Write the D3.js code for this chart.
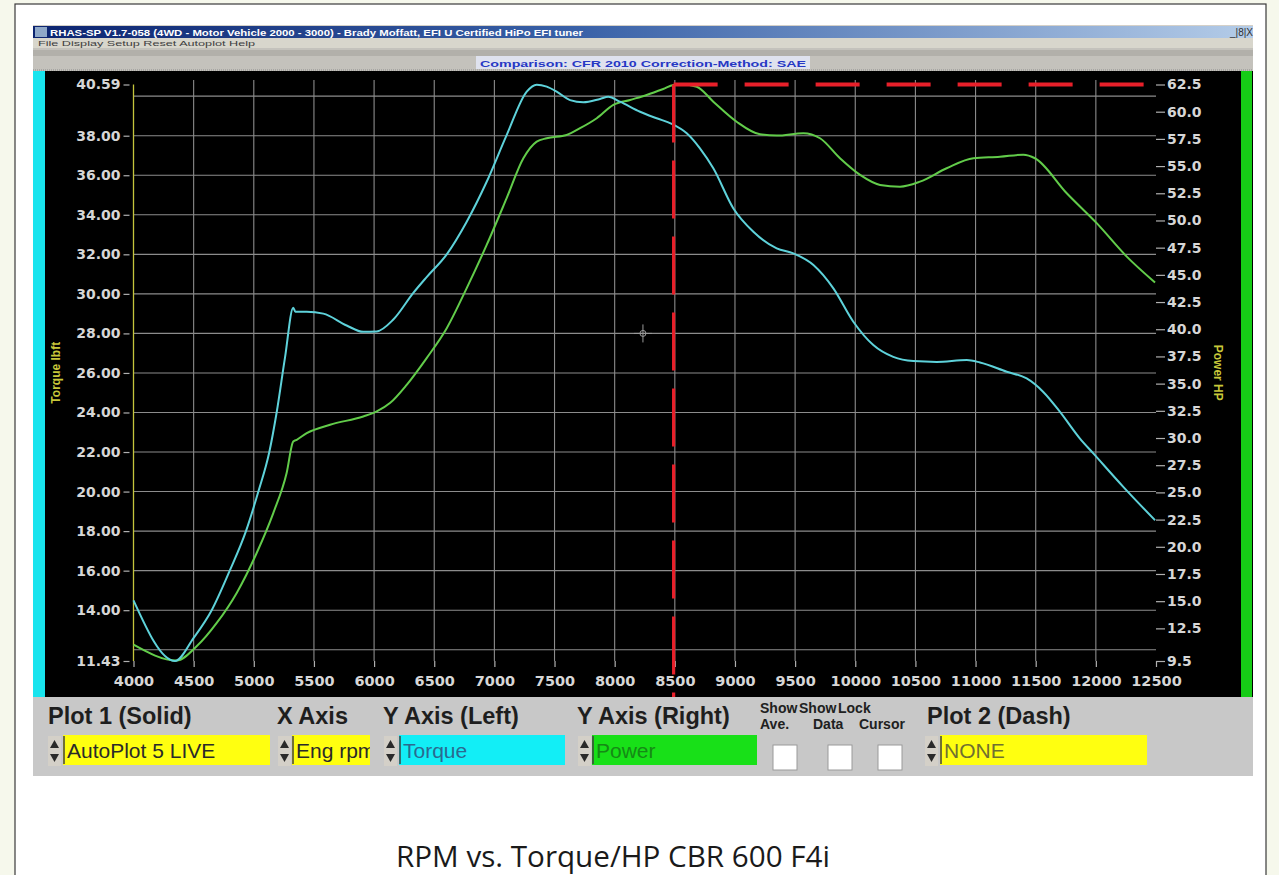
<!DOCTYPE html>
<html><head><meta charset="utf-8">
<script src="https://cdn.jsdelivr.net/npm/d3@7"></script>
<style>body{margin:0;background:#f6f8ec;overflow:hidden}svg{display:block}</style>
</head><body>
<svg id="c" width="1279" height="875"></svg>
<script>
// ---------- data ----------
const xTicks = [4000,4500,5000,5500,6000,6500,7000,7500,8000,8500,9000,9500,10000,10500,11000,11500,12000,12500];
const leftTicks = [40.59,38,36,34,32,30,28,26,24,22,20,18,16,14,11.43];
const leftGrid = [12,14,16,18,20,22,24,26,28,30,32,34,36,38,40];
const rightTicks = [62.5,60,57.5,55,52.5,50,47.5,45,42.5,40,37.5,35,32.5,30,27.5,25,22.5,20,17.5,15,12.5,9.5];

const torqueRpm = [4000,4345,4500,4650,4800,4935,5038,5129,5190,5260,5328,5345,5440,5578,5772,5910,6022,6160,6326,6437,6604,6770,6936,7102,7269,7352,7435,7518,7629,7739,7878,7947,8044,8211,8349,8474,8599,8654,8709,8820,8987,9153,9347,9485,9652,9818,9984,10150,10316,10483,10677,10927,11037,11259,11425,11563,11702,11868,11979,12228,12492];
const torqueLbft = [14.5,11.43,12.6,14.0,16.0,18.0,20.0,22.0,24.0,26.8,29.3,29.1,29.1,29.0,28.4,28.08,28.1,28.7,30.05,30.85,32.0,33.65,35.67,38.03,40.23,40.58,40.48,40.23,39.8,39.69,39.86,39.97,39.72,39.21,38.88,38.6,38.12,37.78,37.36,36.35,34.32,33.14,32.3,32.05,31.46,30.28,28.59,27.41,26.81,26.6,26.56,26.65,26.53,26.06,25.72,25.04,24.03,22.68,21.93,20.24,18.55];

const powerRpm = [4000,4359,4525,4692,4858,5024,5162,5273,5328,5357,5440,5634,5910,6022,6132,6271,6437,6604,6770,6936,7102,7241,7352,7435,7601,7712,7851,7989,8128,8266,8404,8488,8560,8682,8820,9014,9208,9347,9568,9707,9873,10040,10206,10372,10538,10760,10982,11203,11397,11494,11758,12007,12257,12492];
const powerHp = [11.0,9.54,10.85,13.0,15.76,19.43,23.1,26.78,29.68,29.84,30.45,31.22,31.98,32.44,33.21,34.89,37.35,40.1,43.78,47.75,52.05,55.72,57.25,57.56,57.86,58.48,59.4,60.62,61.08,61.54,62.09,62.45,62.5,62.3,60.92,59.08,57.92,57.8,58.02,57.56,55.72,54.19,53.27,53.11,53.57,54.8,55.72,55.85,56.05,55.72,52.5,49.75,46.68,44.3];

const peakRpm = 8490, peakHp = 62.5;
const cursorRpm = 8235, cursorLbft = 28.0;

// ---------- setup ----------
const svg = d3.select("#c");
const AX = "DejaVu Sans, Verdana, sans-serif";
const AR = "Liberation Sans, Arial, sans-serif";

// page frame
svg.append("rect").attr("x",15).attr("y",4).attr("width",1251).attr("height",880)
  .attr("fill","#ffffff").attr("stroke","#3a3a3a").attr("stroke-width",1.2);

// window
svg.append("rect").attr("x",33).attr("y",25).attr("width",1220).attr("height",751).attr("fill","#d4d0c8");
const defs = svg.append("defs");
const g1 = defs.append("linearGradient").attr("id","tb");
g1.append("stop").attr("offset","0").attr("stop-color","#0c2470");
g1.append("stop").attr("offset","0.45").attr("stop-color","#3a62a8");
g1.append("stop").attr("offset","1").attr("stop-color","#b4cce8");
svg.append("rect").attr("x",33).attr("y",26).attr("width",1220).attr("height",12).attr("fill","url(#tb)");
svg.append("rect").attr("x",35).attr("y",27).attr("width",12).attr("height",10).attr("fill","#8fa8c8");
svg.append("text").attr("x",50).attr("y",35.5).attr("font-family",AR).attr("font-weight","bold")
  .attr("font-size",9).attr("fill","#ffffff").attr("textLength",533).attr("lengthAdjust","spacingAndGlyphs")
  .text("RHAS-SP V1.7-058  (4WD - Motor Vehicle 2000 - 3000) - Brady Moffatt, EFI U Certified HiPo EFI tuner");
svg.append("text").attr("x",1230).attr("y",35.5).attr("font-family",AR).attr("font-size",10)
  .attr("fill","#303030").text("_|8|X");
// menu
svg.append("rect").attr("x",33).attr("y",38).attr("width",1220).attr("height",10).attr("fill","#d8d6cc");
svg.append("text").attr("x",38).attr("y",46).attr("font-family",AR).attr("font-size",7.5)
  .attr("fill","#404040").attr("textLength",217).attr("lengthAdjust","spacingAndGlyphs")
  .text("File   Display   Setup   Reset   Autoplot   Help");
// toolbar
svg.append("rect").attr("x",33).attr("y",48).attr("width",1220).attr("height",23).attr("fill","#c4c2bc");
svg.append("rect").attr("x",33).attr("y",50).attr("width",1220).attr("height",6).attr("fill","#b2b0aa");
svg.append("line").attr("x1",33).attr("x2",1253).attr("y1",70).attr("y2",70).attr("stroke","#8a8a8a").attr("stroke-dasharray","1,1");
svg.append("rect").attr("x",476).attr("y",56).attr("width",334).attr("height",13).attr("fill","#dfe2ee");
svg.append("text").attr("x",480).attr("y",66.5).attr("font-family",AR).attr("font-weight","bold")
  .attr("font-size",9.5).attr("fill","#2638c4").attr("textLength",326).attr("lengthAdjust","spacingAndGlyphs")
  .text("Comparison: CFR 2010     Correction-Method: SAE");

// plot area
svg.append("rect").attr("x",33).attr("y",71).attr("width",1220).attr("height",626).attr("fill","#000000");
svg.append("rect").attr("x",33).attr("y",71).attr("width",12).attr("height",626).attr("fill","#18e4ee");
svg.append("rect").attr("x",1241).attr("y",71).attr("width",11).attr("height",626).attr("fill","#16cc16");

// scales
const x = d3.scaleLinear().domain([4000,12500]).range([133.5,1156]);
const yL = d3.scaleLinear().domain([11.43,40.59]).range([661,84.5]);
const yR = d3.scaleLinear().domain([9.5,62.5]).range([661,84.5]);

// grid
const grid = svg.append("g").attr("stroke","#8c8c8c").attr("stroke-width",1.1);
grid.selectAll("line.h").data(leftGrid).join("line")
  .attr("x1",x(4000)).attr("x2",x(12500)).attr("y1",d=>yL(d)).attr("y2",d=>yL(d));
grid.selectAll("line.v").data(xTicks.slice(1,-1)).join("line")
  .attr("x1",d=>x(d)).attr("x2",d=>x(d)).attr("y1",80).attr("y2",661);

// axes
function styleAxis(g, size){
  g.select(".domain").remove();
  g.selectAll(".tick line").attr("stroke","#b0b0b0").attr("stroke-width",1.2);
  g.selectAll(".tick text").attr("fill","#d6d6d6").attr("font-family",AX)
    .attr("font-weight","bold").attr("font-size",size);
}
const gL = svg.append("g").attr("transform","translate(129.5,0)")
  .call(d3.axisLeft(yL).tickValues(leftTicks).tickFormat(d3.format(".2f")).tickSize(6).tickPadding(3));
styleAxis(gL,14);
const gR = svg.append("g").attr("transform","translate(1156,0)")
  .call(d3.axisRight(yR).tickValues(rightTicks).tickFormat(d3.format(".1f")).tickSize(9).tickPadding(2));
styleAxis(gR,14);
const gX = svg.append("g").attr("transform","translate(0,661)")
  .call(d3.axisBottom(x).tickValues(xTicks).tickFormat(d3.format("d")).tickSize(6).tickPadding(9));
styleAxis(gX,14.5);

// left axis line (yellow)
svg.append("line").attr("x1",x(4000)).attr("x2",x(4000)).attr("y1",yL(40.59)).attr("y2",yL(11.43))
  .attr("stroke","#c4c43c").attr("stroke-width",1.3);

// axis titles
svg.append("text").attr("transform",`translate(60,${(yL(40.59)+yL(11.43))/2}) rotate(-90)`)
  .attr("text-anchor","middle").attr("font-family",AR).attr("font-weight","bold").attr("font-size",12)
  .attr("fill","#c8c83a").text("Torque lbft");
svg.append("text").attr("transform",`translate(1214,${(yR(62.5)+yR(9.5))/2}) rotate(90)`)
  .attr("text-anchor","middle").attr("font-family",AR).attr("font-weight","bold").attr("font-size",12)
  .attr("fill","#c8c83a").text("Power HP");

// curves
const torque = torqueRpm.map((r,i)=>[r,torqueLbft[i]]);
const power = powerRpm.map((r,i)=>[r,powerHp[i]]);
svg.append("path").datum(power).attr("fill","none").attr("stroke","#62cc4a").attr("stroke-width",2)
  .attr("d",d3.line().x(d=>x(d[0])).y(d=>yR(d[1])).curve(d3.curveMonotoneX));
svg.append("path").datum(torque).attr("fill","none").attr("stroke","#5ed2da").attr("stroke-width",2)
  .attr("d",d3.line().x(d=>x(d[0])).y(d=>yL(d[1])).curve(d3.curveMonotoneX));

// peak markers (red dashed)
svg.append("line").attr("x1",x(peakRpm)).attr("x2",x(peakRpm)).attr("y1",yR(peakHp)).attr("y2",697)
  .attr("stroke","#e8202a").attr("stroke-width",3.2).attr("stroke-dasharray","58,18");
svg.append("line").attr("x1",x(peakRpm)).attr("x2",x(12500)).attr("y1",yR(peakHp)).attr("y2",yR(peakHp))
  .attr("stroke","#e8202a").attr("stroke-width",4).attr("stroke-dasharray","44,27");

// cursor crosshair
const cx = x(cursorRpm), cy = yL(cursorLbft);
const cur = svg.append("g").attr("stroke","#9a9a9a").attr("stroke-width",1).attr("fill","none");
cur.append("line").attr("x1",cx-9).attr("x2",cx+9).attr("y1",cy).attr("y2",cy);
cur.append("line").attr("x1",cx).attr("x2",cx).attr("y1",cy-9).attr("y2",cy+9);
cur.append("circle").attr("cx",cx).attr("cy",cy).attr("r",3);

// ---------- control panel ----------
svg.append("rect").attr("x",33).attr("y",697).attr("width",1220).attr("height",79).attr("fill","#c8c8c8");
const lab = svg.append("g").attr("font-family",AR).attr("font-weight","bold").attr("fill","#1e1e1e");
[["Plot 1 (Solid)",48],["X Axis",277],["Y Axis (Left)",383],["Y Axis (Right)",577],["Plot 2 (Dash)",927]]
  .forEach(([t,px])=>lab.append("text").attr("x",px).attr("y",724).attr("font-size",23.5).text(t));
const sm = svg.append("g").attr("font-family",AR).attr("font-weight","bold").attr("fill","#202020").attr("font-size",14);
[["Show",760,713],["Ave.",760,729],["Show",799,713],["Data",813,729],["Lock",838,713],["Cursor",859,729]]
  .forEach(([t,px,py])=>sm.append("text").attr("x",px).attr("y",py).text(t));

function spinner(px){
  const g = svg.append("g");
  g.append("rect").attr("x",px).attr("y",736).attr("width",13).attr("height",30).attr("fill","#d4d0c8");
  g.append("path").attr("d",`M${px+2},${748} L${px+11},${748} L${px+6.5},${740} Z`).attr("fill","#2a2a2a");
  g.append("path").attr("d",`M${px+2},${754} L${px+11},${754} L${px+6.5},${762} Z`).attr("fill","#2a2a2a");
}
function box(px,w,fill,txt,tcol){
  svg.append("rect").attr("x",px).attr("y",735).attr("width",w).attr("height",30).attr("fill",fill);
  svg.append("line").attr("x1",px+1).attr("x2",px+1).attr("y1",736).attr("y2",764).attr("stroke","#404040").attr("stroke-width",1.5);
  svg.append("clipPath").attr("id","cl"+px).append("rect").attr("x",px).attr("y",735).attr("width",w).attr("height",30);
  svg.append("text").attr("x",px+4).attr("y",758).attr("font-family",AR).attr("font-size",21)
    .attr("fill",tcol).attr("clip-path",`url(#cl${px})`).text(txt);
}
spinner(48); box(63,207,"#ffff10","AutoPlot 5 LIVE","#2a2a2a");
spinner(278); box(292,78,"#ffff10","Eng rpm","#2a2a2a");
spinner(384); box(399,166,"#12eef6","Torque","#2a6a90");
spinner(578); box(592,165,"#18e018","Power","#158a15");
spinner(925); box(940,207,"#ffff10","NONE","#707030");
[773,828,878].forEach(px=>svg.append("rect").attr("x",px).attr("y",745).attr("width",24).attr("height",25)
  .attr("fill","#ffffff").attr("stroke","#9a9a9a").attr("stroke-width",1));

// caption
svg.append("text").attr("x",396).attr("y",867).attr("font-family","Open Sans, Noto Sans, sans-serif")
  .attr("font-size",30).attr("fill","#1a1a1a").attr("textLength",434).attr("lengthAdjust","spacingAndGlyphs")
  .text("RPM vs. Torque/HP CBR 600 F4i");
</script>
</body></html>
